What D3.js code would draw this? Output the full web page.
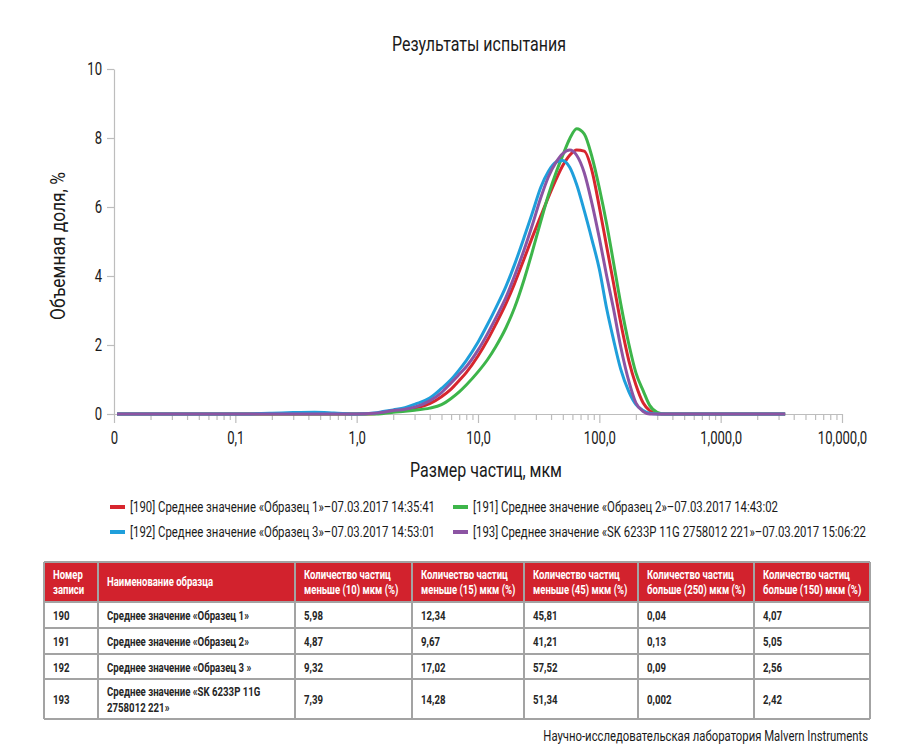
<!DOCTYPE html>
<html>
<head>
<meta charset="utf-8">
<script src="https://cdn.jsdelivr.net/npm/d3@7"></script>
<style>
  body { margin: 0; background: #fff; }
  text { font-family: Roboto, "Noto Sans", sans-serif; }
</style>
</head>
<body>
<svg id="chart" width="908" height="756"></svg>
<script>
// particle size grid, мкм
const sizes = [0.0106, 0.02, 0.05, 0.1, 0.2, 0.3, 0.45, 0.65, 1.0, 1.4, 1.7, 2, 2.5, 3, 4, 5, 6, 7, 8, 10,
  12, 14, 17, 20, 24, 28, 33, 38, 44, 50, 57, 65, 75, 87, 100, 115, 130, 150, 175, 200,
  230, 260, 300, 350, 500, 1000, 2000, 3400];

// volume fraction, %
const s190 = [0, 0, 0, 0, 0, 0, 0, 0, 0, 0.01, 0.04, 0.08, 0.12, 0.17, 0.3, 0.5, 0.72, 0.97, 1.2, 1.68,
  2.15, 2.6, 3.2, 3.78, 4.5, 5.12, 5.75, 6.28, 6.8, 7.2, 7.5, 7.65, 7.62, 7.05, 6.0, 4.85, 3.85, 2.65, 1.55, 0.85,
  0.32, 0.1, 0.01, 0, 0, 0, 0, 0];
const s191 = [0, 0, 0, 0, 0, 0, 0, 0, 0, 0, 0.02, 0.05, 0.08, 0.11, 0.17, 0.27, 0.45, 0.64, 0.84, 1.22,
  1.58, 1.95, 2.5, 3.08, 3.9, 4.7, 5.6, 6.34, 7.0, 7.5, 7.98, 8.27, 8.12, 7.45, 6.55, 5.5, 4.45, 3.2, 2.03, 1.2,
  0.67, 0.25, 0.05, 0, 0, 0, 0, 0];
const s192 = [0, 0, 0, 0, 0.02, 0.04, 0.05, 0.03, 0, 0.03, 0.08, 0.12, 0.18, 0.28, 0.46, 0.74, 1.0, 1.28, 1.55, 2.08,
  2.6, 3.07, 3.7, 4.33, 5.12, 5.82, 6.58, 7.03, 7.3, 7.35, 7.15, 6.65, 5.9, 5.05, 4.2, 3.05, 2.2, 1.3, 0.65, 0.28,
  0.1, 0.02, 0, 0, 0, 0, 0, 0];
const s193 = [0, 0, 0, 0, 0, 0, 0, 0, 0, 0.02, 0.06, 0.1, 0.14, 0.2, 0.38, 0.62, 0.9, 1.15, 1.37, 1.85,
  2.33, 2.78, 3.38, 4.0, 4.76, 5.47, 6.28, 6.87, 7.3, 7.55, 7.65, 7.5, 7.0, 6.1, 5.1, 4.0, 3.1, 1.95, 0.95, 0.32,
  0.07, 0, 0, 0, 0, 0, 0, 0];

const seriesLabels = [
  "[190] Среднее значение «Образец 1»–07.03.2017 14:35:41",
  "[191] Среднее значение «Образец 2»–07.03.2017 14:43:02",
  "[192] Среднее значение «Образец 3»–07.03.2017 14:53:01",
  "[193] Среднее значение «SK 6233P 11G 2758012 221»–07.03.2017 15:06:22"
];
const seriesColors = ["#d7262e", "#3db54a", "#1f9fdb", "#8c54a3"];

const xMajor = [0.01, 0.1, 1, 10, 100, 1000, 10000];
const xMajorLabels = ["0", "0,1", "1,0", "10,0", "100,0", "1,000,0", "10,000,0"];
const yTicks = [0, 2, 4, 6, 8, 10];

const tableHead = [
  ["Номер", "записи"], ["Наименование образца"],
  ["Количество частиц", "меньше (10) мкм (%)"], ["Количество частиц", "меньше (15) мкм (%)"],
  ["Количество частиц", "меньше (45) мкм (%)"], ["Количество частиц", "больше (250) мкм (%)"],
  ["Количество частиц", "больше (150) мкм (%)"]
];
const tableRows = [
  [["190"], ["Среднее значение «Образец 1»"], ["5,98"], ["12,34"], ["45,81"], ["0,04"], ["4,07"]],
  [["191"], ["Среднее значение «Образец 2»"], ["4,87"], ["9,67"], ["41,21"], ["0,13"], ["5,05"]],
  [["192"], ["Среднее значение «Образец 3 »"], ["9,32"], ["17,02"], ["57,52"], ["0,09"], ["2,56"]],
  [["193"], ["Среднее значение «SK 6233P 11G", "2758012 221»"], ["7,39"], ["14,28"], ["51,34"], ["0,002"], ["2,42"]]
];

const svg = d3.select("#chart");

// the original font is a narrow DIN-like face, so texts get squeezed sideways
function squeezeFactor(node, target) { return target / node.getComputedTextLength(); }
function placeText(g, x, y, k, size, txt, anchor) {
  return g.append("text")
    .attr("transform", `translate(${x},${y}) scale(${k},1)`)
    .attr("text-anchor", anchor || "start")
    .style("font-size", size + "px")
    .attr("fill", "#1a1a1a")
    .text(txt);
}

const x = d3.scaleLog().domain([0.01, 10000]).range([114, 842]);
const y = d3.scaleLinear().domain([0, 10]).range([414, 69]);

// minor ticks
const xMinor = [];
xMajor.slice(0, -1).forEach(d => { for (let m = 2; m < 10; m++) xMinor.push(d * m); });

const gMinor = svg.append("g").attr("transform", "translate(0,414)")
  .call(d3.axisBottom(x).tickValues(xMinor).tickSize(6).tickFormat(""));
gMinor.select(".domain").remove();

const gx = svg.append("g").attr("transform", "translate(0,414)")
  .call(d3.axisBottom(x).tickValues(xMajor).tickSize(9).tickSizeOuter(0).tickPadding(9)
    .tickFormat((d, i) => xMajorLabels[i]));
const xt = gx.selectAll("text").style("font-size", "17.5px").attr("fill", "#1a1a1a");
const kTick = squeezeFactor(xt.nodes()[5], 42);
xt.attr("transform", `scale(${kTick},1)`);

const gy = svg.append("g").attr("transform", "translate(114,0)")
  .call(d3.axisLeft(y).tickValues(yTicks).tickSize(7).tickSizeOuter(0).tickPadding(5));
gy.selectAll("text").style("font-size", "17.5px").attr("fill", "#1a1a1a")
  .attr("x", -12 / kTick).attr("transform", `scale(${kTick},1)`);

svg.selectAll(".domain, .tick line").attr("stroke", "#bdbdbd").attr("stroke-width", 1.2);

// curves
const series = [s190, s191, s192, s193];
const line = d3.line()
  .x((d, i) => x(sizes[i]))
  .y(d => y(d))
  .curve(d3.curveMonotoneX);

svg.append("g").selectAll("path").data(series).enter().append("path")
  .attr("d", d => line(d))
  .attr("fill", "none")
  .attr("stroke", (d, i) => seriesColors[i])
  .attr("stroke-width", 3)
  .attr("stroke-linejoin", "round");

// titles
const title = placeText(svg, 479, 51, 1, 20, "Результаты испытания", "middle");
title.attr("transform", `translate(479,51) scale(${squeezeFactor(title.node(), 174)},1)`);

const yl = svg.append("g").attr("transform", "translate(65,246) rotate(-90)");
const ylt = placeText(yl, 0, 0, 1, 20, "Объемная доля, %", "middle");
ylt.attr("transform", `scale(${squeezeFactor(ylt.node(), 148)},1)`);

const xl = placeText(svg, 486, 477, 1, 20.5, "Размер частиц, мкм", "middle");
xl.attr("transform", `translate(486,477) scale(${squeezeFactor(xl.node(), 152)},1)`);

// legend
const lg = svg.append("g").selectAll("g").data(seriesLabels).enter().append("g")
  .attr("transform", (d, i) => `translate(${i % 2 ? 453 : 110},${i < 2 ? 507 : 532})`);
lg.append("rect").attr("x", 0).attr("y", -2).attr("width", 15).attr("height", 4)
  .attr("fill", (d, i) => seriesColors[i]);
const lgt = lg.append("text").attr("x", 0).attr("y", 0)
  .style("font-size", "14px").attr("fill", "#1a1a1a").text(d => d);
const kLeg = squeezeFactor(lgt.nodes()[0], 305);
lgt.attr("transform", `translate(20,5) scale(${kLeg},1)`);

// table
const colX = [44, 98, 295, 412, 524, 638, 754, 870];
const rowY = [562, 602, 628, 654, 679, 719];
const tg = svg.append("g");
tg.append("rect").attr("x", colX[0]).attr("y", rowY[0]).attr("width", colX[7] - colX[0])
  .attr("height", rowY[1] - rowY[0]).attr("fill", "#d2222d");

const cells = [tableHead].concat(tableRows);
const tableTexts = [];
cells.forEach((row, r) => {
  const top = rowY[r], bottom = rowY[r + 1], mid = (top + bottom) / 2;
  row.forEach((lines, c) => {
    const lh = r === 0 ? 15 : 16;
    const off = r === 0 ? 4 : 5;
    lines.forEach((t, k) => {
      const tx = tg.append("text")
        .attr("x", 0).attr("y", 0)
        .style("font-size", r === 0 ? "12px" : "13px")
        .style("font-weight", "bold")
        .attr("fill", r === 0 ? "#fff" : "#262626")
        .text(t);
      tableTexts.push({ node: tx, x: colX[c] + 9, y: mid + off + (k - (lines.length - 1) / 2) * lh, head: r === 0 });
    });
  });
});
const kHead = squeezeFactor(tableTexts[3].node.node(), 87);
const kBody = squeezeFactor(tableTexts.find(d => !d.head && d.node.text().startsWith("Среднее")).node.node(), 142);
tableTexts.forEach(d => d.node.attr("transform", `translate(${d.x},${d.y}) scale(${d.head ? kHead : kBody},1)`));

tg.selectAll("line.h").data(rowY).enter().append("line")
  .attr("x1", colX[0]).attr("x2", colX[7]).attr("y1", d => d).attr("y2", d => d)
  .attr("stroke", "#a3a3a3").attr("stroke-width", 2);
tg.selectAll("line.v").data(colX).enter().append("line")
  .attr("x1", d => d).attr("x2", d => d).attr("y1", rowY[0]).attr("y2", rowY[5])
  .attr("stroke", "#a3a3a3").attr("stroke-width", 2);

const foot = placeText(svg, 868, 741, 1, 15.5, "Научно-исследовательская лаборатория Malvern Instruments", "end");
foot.attr("transform", `translate(868,741) scale(${squeezeFactor(foot.node(), 325)},1)`);
</script>
</body>
</html>
